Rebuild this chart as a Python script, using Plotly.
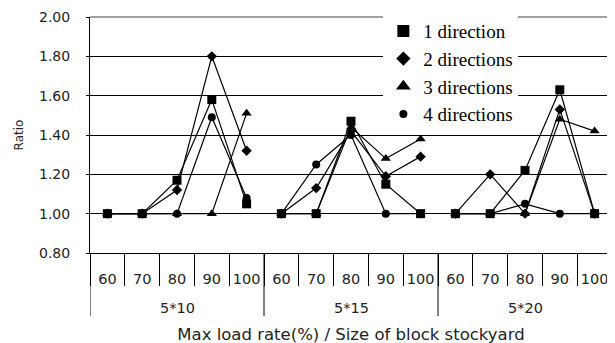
import plotly.graph_objects as go

groups = ["5*10", "5*15", "5*20"]
rates = ["60", "70", "80", "90", "100"]
series_names = ["1 direction", "2 directions", "3 directions", "4 directions"]
dir1 = [1.00, 1.00, 1.17, 1.58, 1.05, 1.00, 1.00, 1.47, 1.15, 1.00, 1.00, 1.00, 1.22, 1.63, 1.00]
dir2 = [1.00, 1.00, 1.12, 1.80, 1.32, 1.00, 1.13, 1.42, 1.19, 1.29, 1.00, 1.20, 1.00, 1.53, 1.00]
dir3 = [1.00, 1.00, 1.00, 1.00, 1.51, 1.00, 1.00, 1.44, 1.28, 1.38, 1.00, 1.00, 1.00, 1.48, 1.42]
dir4 = [1.00, 1.00, 1.00, 1.49, 1.08, 1.00, 1.25, 1.40, 1.00, 1.00, 1.00, 1.00, 1.05, 1.00, 1.00]

all_series = [dir1, dir2, dir3, dir4]
symbols = ["square", "diamond", "triangle-up", "circle"]
plot_sizes = [9, 8, 9, 8]
legend_sizes = [12, 11, 13, 8]

n = len(rates)
ng = len(groups)
positions = list(range(n * ng))           # one slot per (group, rate) category
tick_text = rates * ng
boundaries = [p - 0.5 for p in positions] + [positions[-1] + 0.5]
group_bounds = [gi * n - 0.5 for gi in range(ng + 1)]
group_centers = [gi * n + (n - 1) / 2 for gi in range(ng)]

fig = go.Figure()
for name, vals, sym, sz in zip(series_names, all_series, symbols, plot_sizes):
    for gi in range(ng):
        fig.add_trace(go.Scatter(
            x=positions[gi * n:(gi + 1) * n],
            y=vals[gi * n:(gi + 1) * n],
            mode="lines+markers",
            line=dict(color="black", width=1.2),
            marker=dict(symbol=sym, size=sz, color="black"),
            showlegend=False,
            legendgroup=name,
            hoverinfo="skip",
        ))

for name, sym, sz in zip(series_names, symbols, legend_sizes):
    fig.add_trace(go.Scatter(
        x=[positions[0]], y=[None],
        mode="markers",
        marker=dict(symbol=sym, size=sz, color="black"),
        name=name,
        legendgroup=name,
        showlegend=True,
    ))

tick_font = dict(family="DejaVu Sans", size=14.5, color="#222")
M_T, M_B = 9, 98
PLOT_H = 343 - M_T - M_B  # plot-area height in px

# the page body adds an 8px offset, so margins are reduced accordingly
fig.update_layout(
    width=615, height=343,
    margin=dict(l=82, r=11, t=M_T, b=M_B, autoexpand=False),
    paper_bgcolor="white", plot_bgcolor="white",
    showlegend=True,
    legend=dict(
        x=0.562, y=1.021, xanchor="left", yanchor="top",
        bgcolor="white", borderwidth=0,
        font=dict(family="Liberation Serif", size=19, color="black"),
        tracegroupgap=0, itemsizing="trace",
    ),
    xaxis=dict(
        automargin=False,
        range=[boundaries[0], boundaries[-1]],
        tickmode="array", tickvals=positions, ticktext=tick_text,
        tickangle=0, ticks="", ticklabelstandoff=13,
        minor=dict(tickmode="array", tickvals=boundaries, ticks="outside",
                   ticklen=32, tickcolor="black", tickwidth=1, showgrid=False),
        showline=True, linecolor="black", linewidth=1,
        tickfont=tick_font,
        showgrid=False, zeroline=False,
        title=dict(text="Max load rate(%) / Size of block stockyard",
                   font=dict(family="DejaVu Sans", size=16.5, color="#222"), standoff=42),
    ),
    yaxis=dict(
        automargin=False,
        range=[0.8, 2.0], dtick=0.2, tick0=0.8, tickformat=".2f",
        showgrid=True, gridcolor="black", gridwidth=1,
        showline=True, linecolor="black", linewidth=1,
        ticks="outside", ticklen=3, tickcolor="black",
        ticklabelstandoff=13, ticklabeloverflow="allow",
        zeroline=False,
        tickfont=dict(family="DejaVu Sans", size=14, color="#222"),
        title=dict(text="Ratio", font=dict(family="DejaVu Sans", size=12, color="#222"), standoff=12),
    ),
)

# group labels under the rate labels
for gc, g in zip(group_centers, groups):
    fig.add_annotation(x=gc, xref="x", y=-55 / PLOT_H, yref="paper",
                       text=g, showarrow=False, yanchor="middle",
                       font=tick_font)

# group dividers extending through both label rows
for i, b in enumerate(group_bounds):
    col = "#808080" if i == len(group_bounds) - 1 else "black"
    fig.add_shape(type="line", xref="x", yref="paper", x0=b, x1=b, y0=0, y1=-63 / PLOT_H,
                  line=dict(color=col, width=1))

# gray border on top and right of the plot area
fig.add_shape(type="line", xref="x domain", yref="y domain", x0=0, x1=1, y0=1, y1=1,
              line=dict(color="#808080", width=1.5))
fig.add_shape(type="line", xref="x domain", yref="y domain", x0=1, x1=1, y0=0, y1=1,
              line=dict(color="#808080", width=1.5))

fig.write_html("out.html")
